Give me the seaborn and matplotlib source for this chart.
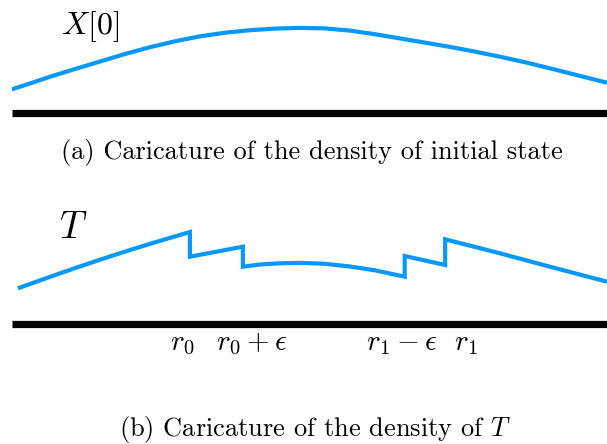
import numpy as np
import pandas as pd
import matplotlib
matplotlib.use("Agg")
import matplotlib.pyplot as plt
import seaborn as sns

# ---- data (position along the line, caricature density) ----
pos_x0 = [0.0, 0.30, 0.64, 1.06, 1.48, 1.90, 2.32, 2.74, 3.16, 3.58, 4.0, 4.42, 4.84,
          5.26, 5.68, 6.10, 6.52, 6.94, 7.36, 7.78, 8.2, 8.62, 9.04, 9.46, 10.0]
dens_x0 = [2.42, 3.0, 3.68, 4.45, 5.2, 5.95, 6.63, 7.22, 7.72, 8.08, 8.33, 8.49, 8.56,
           8.51, 8.29, 7.93, 7.51, 7.09, 6.66, 6.19, 5.68, 5.13, 4.52, 3.89, 3.08]

pos_T = [0.10, 0.64, 1.06, 1.48, 1.90, 2.32, 2.66, 2.99,
         2.99, 3.88,
         3.88, 4.17, 4.50, 4.84, 5.26, 5.68, 6.10, 6.60,
         6.60, 7.28,
         7.28, 8.2, 9.04, 10.0]
dens_T = [3.52, 4.67, 5.54, 6.38, 7.19, 7.97, 8.57, 9.15,
          6.68, 7.68,
          5.68, 5.90, 6.02, 6.07, 5.97, 5.70, 5.32, 4.68,
          6.75, 5.85,
          8.42, 7.02, 5.68, 4.18]

tick_pos = [2.87, 4.02, 6.55, 7.63]
tick_labels = [r"$r_0$", r"$r_0+\epsilon$", r"$r_1-\epsilon$", r"$r_1$"]

caption_a = r"(a) Caricature of the density of initial state"
caption_b = r"(b) Caricature of the density of $T$"

sns.set_theme(style="white")
plt.rcParams["mathtext.fontset"] = "cm"
plt.rcParams["font.family"] = ["cmr10", "DejaVu Serif"]
plt.rcParams["axes.unicode_minus"] = False
plt.rcParams["axes.formatter.use_mathtext"] = True
plt.rcParams["text.color"] = "black"
plt.rcParams["xtick.color"] = "black"

W, H = 607, 444
fig = plt.figure(figsize=(W / 100, H / 100), dpi=100)

blue = "#0898fa"

def make_ax(spine_px):
    ax = fig.add_axes([12 / W, (H - spine_px) / H, (W - 12) / W, 113.5 / H])
    ax.set_xlim(0, 10)
    ax.set_ylim(0, 11.35)
    for s in ["top", "left", "right"]:
        ax.spines[s].set_visible(False)
    ax.spines["bottom"].set_linewidth(5.2)
    ax.spines["bottom"].set_color("black")
    ax.spines["bottom"].set_capstyle("butt")
    ax.set_yticks([])
    ax.patch.set_alpha(0)
    return ax

ax1 = make_ax(113.5)
df1 = pd.DataFrame({"pos": pos_x0, "dens": dens_x0})
sns.lineplot(data=df1, x="pos", y="dens", ax=ax1, color=blue, linewidth=3.0,
             sort=False, estimator=None)
ax1.set_xticks([])
ax1.set_xlabel("")
ax1.set_ylabel("")

ax2 = make_ax(323.5)
df2 = pd.DataFrame({"pos": pos_T, "dens": dens_T})
sns.lineplot(data=df2, x="pos", y="dens", ax=ax2, color=blue, linewidth=3.0,
             sort=False, estimator=None)
for ln in ax2.lines + ax1.lines:
    ln.set_solid_joinstyle("miter")
    ln.set_solid_capstyle("butt")
ax2.set_xticks(tick_pos, tick_labels)
ax2.tick_params(axis="x", length=0, pad=5, labelsize=21, labelcolor="black")
ax2.set_xlabel("")
ax2.set_ylabel("")

fig.text(90 / W, 1 - 27 / H, r"$X[0]$", fontsize=23, ha="center", va="center")
fig.text(73.5 / W, 1 - 228 / H, r"$T$", fontsize=27, ha="center", va="center")
fig.text(312 / W, 1 - 152 / H, caption_a, fontsize=19, ha="center", va="center")
fig.text(315 / W, 1 - 429 / H, caption_b, fontsize=19, ha="center", va="center")

fig.savefig("out.png", dpi=100)
